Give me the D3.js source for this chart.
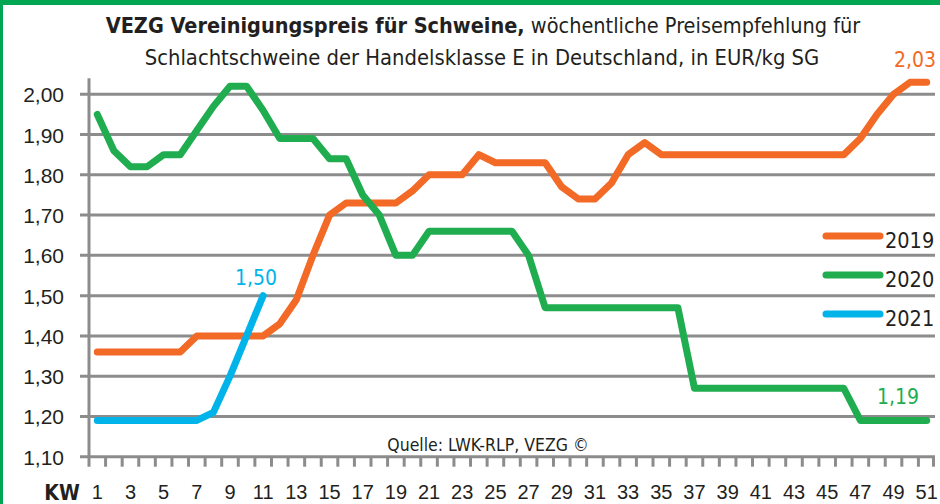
<!DOCTYPE html>
<html lang="de">
<head>
<meta charset="utf-8" />
<title>VEZG Vereinigungspreis</title>
<script src="https://cdnjs.cloudflare.com/ajax/libs/d3/7.8.5/d3.min.js"></script>
<style>
  body { margin: 0; background: #fff; }
  svg { display: block; font-family: "Liberation Sans Narrow", "DejaVu Sans Condensed", "Roboto", sans-serif; }
  .grid { stroke: #8c8c8c; stroke-width: 3; }
  .series { fill: none; stroke-width: 7; stroke-linecap: round; stroke-linejoin: round; }
</style>
</head>
<body>
<script>
  // DATA
  var weeks = d3.range(1, 52);
  var weekLabels = weeks.filter((w) => w % 2 === 1);
  var yTicks = [1.10, 1.20, 1.30, 1.40, 1.50, 1.60, 1.70, 1.80, 1.90, 2.00];

  var prices2019 = [1.36, 1.36, 1.36, 1.36, 1.36, 1.36, 1.40, 1.40, 1.40, 1.40,
                    1.40, 1.43, 1.49, 1.60, 1.70, 1.73, 1.73, 1.73, 1.73, 1.76,
                    1.80, 1.80, 1.80, 1.85, 1.83, 1.83, 1.83, 1.83, 1.77, 1.74,
                    1.74, 1.78, 1.85, 1.88, 1.85, 1.85, 1.85, 1.85, 1.85, 1.85,
                    1.85, 1.85, 1.85, 1.85, 1.85, 1.85, 1.89, 1.95, 2.00, 2.03,
                    2.03];
  var prices2020 = [1.95, 1.86, 1.82, 1.82, 1.85, 1.85, 1.91, 1.97, 2.02, 2.02,
                    1.96, 1.89, 1.89, 1.89, 1.84, 1.84, 1.75, 1.70, 1.60, 1.60,
                    1.66, 1.66, 1.66, 1.66, 1.66, 1.66, 1.60, 1.47, 1.47, 1.47,
                    1.47, 1.47, 1.47, 1.47, 1.47, 1.47, 1.27, 1.27, 1.27, 1.27,
                    1.27, 1.27, 1.27, 1.27, 1.27, 1.27, 1.19, 1.19, 1.19, 1.19,
                    1.19];
  var prices2021 = [1.19, 1.19, 1.19, 1.19, 1.19, 1.19, 1.19, 1.21, 1.30, 1.40,
                    1.50];

  var series = [
    {name: "2019", color: "#f26a25", values: prices2019, last: "2,03"},
    {name: "2020", color: "#1fad50", values: prices2020, last: "1,19"},
    {name: "2021", color: "#00b4ea", values: prices2021, last: "1,50"}
  ];

  // CONFIG
  var width = 940, height = 504;
  var left = 89, right = 935;
  var fmt = (v) => d3.format(".2f")(v).replace(".", ",");

  var svg = d3.select("body").append("svg")
      .attr("width", width)
      .attr("height", height);

  var x = d3.scaleBand().domain(weeks).range([left, right]).padding(0);
  var y = d3.scaleLinear().domain([1.10, 2.00]).range([456.7, 94.3]);
  var cx = (w) => x(w) + x.bandwidth() / 2;

  // frame
  svg.append("rect").attr("x", 0).attr("y", 0).attr("width", width).attr("height", 5).attr("fill", "#00a651");
  svg.append("rect").attr("x", 0).attr("y", 0).attr("width", 3).attr("height", height).attr("fill", "#00a651");

  // title
  var t1 = svg.append("text")
      .attr("x", 483).attr("y", 33)
      .attr("text-anchor", "middle")
      .attr("font-size", 21.5)
      .attr("fill", "#231f20");
  t1.append("tspan").attr("font-weight", "bold").text("VEZG Vereinigungspreis für Schweine,");
  t1.append("tspan").text(" wöchentliche Preisempfehlung für");
  svg.append("text")
      .attr("x", 482).attr("y", 65)
      .attr("text-anchor", "middle")
      .attr("font-size", 21.8)
      .attr("fill", "#231f20")
      .text("Schlachtschweine der Handelsklasse E in Deutschland,  in EUR/kg SG");

  // grid
  svg.selectAll(".grid.h")
    .data(yTicks).enter()
    .append("line")
      .attr("class", "grid h")
      .attr("x1", 80).attr("x2", right)
      .attr("y1", (d) => y(d)).attr("y2", (d) => y(d));

  svg.append("line").attr("class", "grid")
      .attr("x1", left).attr("x2", left)
      .attr("y1", y(2.04)).attr("y2", y(1.10) + 10);

  // x ticks between weeks
  svg.selectAll(".grid.xt")
    .data(weeks.slice(1).concat(["end"])).enter()
    .append("line")
      .attr("class", "grid xt")
      .attr("x1", (d) => d === "end" ? right - 1.5 : x(d))
      .attr("x2", (d) => d === "end" ? right - 1.5 : x(d))
      .attr("y1", y(1.10)).attr("y2", y(1.10) + 10);

  // y axis labels
  var yAxis = d3.axisLeft(y).tickValues(yTicks).tickSize(0).tickPadding(0).tickFormat(fmt);
  var gy = svg.append("g").attr("transform", "translate(64,0)").call(yAxis);
  gy.select(".domain").remove();
  gy.selectAll("text").attr("font-size", 21).attr("fill", "#231f20").attr("font-family", null).attr("dy", "0.36em");

  // x axis labels
  var xAxis = d3.axisBottom(x).tickValues(weekLabels).tickSize(0).tickPadding(0);
  var gx = svg.append("g").attr("transform", "translate(0,484.5)").call(xAxis);
  gx.select(".domain").remove();
  gx.selectAll("text").attr("font-size", 20).attr("fill", "#231f20").attr("font-family", null).attr("dy", "0.71em");

  svg.append("text")
      .attr("x", 62).attr("y", 500)
      .attr("text-anchor", "middle")
      .attr("font-size", 21).attr("font-weight", "bold")
      .attr("fill", "#231f20")
      .text("KW");

  // source
  svg.append("text")
      .attr("x", 488).attr("y", 451)
      .attr("text-anchor", "middle")
      .attr("font-size", 17.5)
      .attr("fill", "#231f20")
      .text("Quelle: LWK-RLP, VEZG ©");

  // lines
  var line = d3.line()
      .x((d, i) => cx(weeks[i]))
      .y((d) => y(d));

  svg.selectAll(".series")
    .data(series).enter()
    .append("path")
      .attr("class", "series")
      .attr("stroke", (s) => s.color)
      .attr("d", (s) => line(s.values));

  // end labels
  var endPos = {"2019": [915, 67], "2020": [898, 404], "2021": [256, 285]};
  svg.selectAll(".endlabel")
    .data(series).enter()
    .append("text")
      .attr("class", "endlabel")
      .attr("x", (s) => endPos[s.name][0])
      .attr("y", (s) => endPos[s.name][1])
      .attr("text-anchor", "middle")
      .attr("font-size", 21)
      .attr("fill", (s) => s.color)
      .text((s) => s.last);

  // legend
  var legend = svg.selectAll(".legend")
    .data(series).enter()
    .append("g")
      .attr("class", "legend")
      .attr("transform", (s, i) => `translate(826,${[236, 275, 314][i]})`);
  legend.append("line")
      .attr("x1", 0).attr("x2", 54)
      .attr("stroke", (s) => s.color)
      .attr("stroke-width", 7)
      .attr("stroke-linecap", "round");
  legend.append("text")
      .attr("x", 59).attr("y", 12)
      .attr("font-size", 21.5)
      .attr("fill", "#231f20")
      .text((s) => s.name);
</script>
</body>
</html>
